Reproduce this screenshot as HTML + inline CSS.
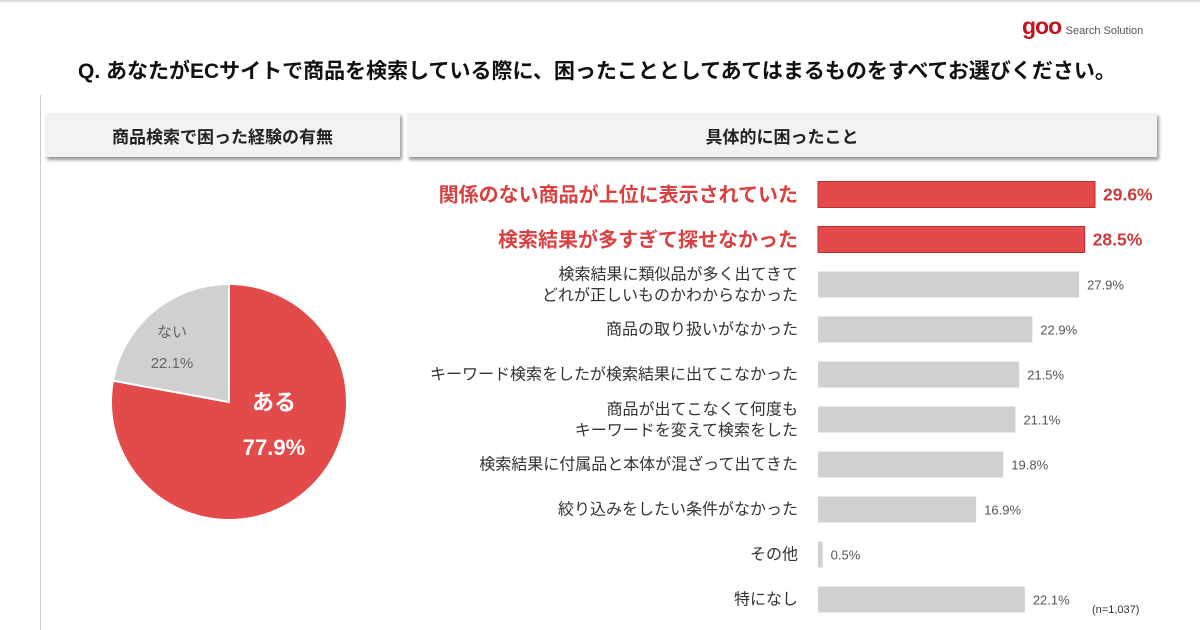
<!DOCTYPE html>
<html><head><meta charset="utf-8">
<style>
body{margin:0;width:1200px;height:630px;background:#fff;overflow:hidden;position:relative;font-family:"Liberation Sans","Noto Sans CJK JP",sans-serif;}
.abs{position:absolute;}
.hdr{position:absolute;top:113px;height:44px;background:#f2f2f2;box-shadow:2px 3px 3px #999;font-weight:bold;font-size:17px;color:#222;display:flex;align-items:center;justify-content:center;}
</style></head><body>
<div class="abs" style="left:0;top:0;width:1200px;height:2px;background:#ddd"></div>
<div class="abs" style="left:40px;top:95px;width:1px;height:535px;background:#ccc"></div>
<div class="abs" style="left:1022px;top:13px;white-space:nowrap"><span style="color:#c0141e;font-weight:bold;font-size:23px;letter-spacing:-1px">goo</span> <span style="font-size:11px;color:#555">Search Solution</span></div>
<div class="abs" style="left:78px;top:55px;font-size:21px;font-weight:bold;color:#111;white-space:nowrap">Q. あなたがECサイトで商品を検索している際に、困ったこととしてあてはまるものをすべてお選びください。</div>
<div class="hdr" style="left:45px;width:355px">商品検索で困った経験の有無</div>
<div class="hdr" style="left:407px;width:750px">具体的に困ったこと</div>
<svg class="abs" style="left:0;top:0" width="1200" height="630" id="chart"></svg>
<div class="abs" style="left:1092px;top:604px;font-size:11px;color:#333">(n=1,037)</div>
<script>
const pieLabels=["ある","ない"];
const pieValues=[77.9,22.1];
const barLabels=[["関係のない商品が上位に表示されていた"],["検索結果が多すぎて探せなかった"],["検索結果に類似品が多く出てきて","どれが正しいものかわからなかった"],["商品の取り扱いがなかった"],["キーワード検索をしたが検索結果に出てこなかった"],["商品が出てこなくて何度も","キーワードを変えて検索をした"],["検索結果に付属品と本体が混ざって出てきた"],["絞り込みをしたい条件がなかった"],["その他"],["特になし"]];
const barValues=[29.6,28.5,27.9,22.9,21.5,21.1,19.8,16.9,0.5,22.1];
const highlight=[true,true,false,false,false,false,false,false,false,false];
const NS="http://www.w3.org/2000/svg";
const svg=document.getElementById('chart');
function mk(t,a,txt){const e=document.createElementNS(NS,t);for(const k in a)e.setAttribute(k,a[k]);if(txt!=null)e.textContent=txt;svg.appendChild(e);return e;}
const cx=229,cy=402,r=118;
const total=pieValues.reduce((a,b)=>a+b,0);
function pt(frac){const a=-Math.PI/2-frac*2*Math.PI;return (cx+r*Math.cos(a)).toFixed(2)+','+(cy+r*Math.sin(a)).toFixed(2);}
function slice(f0,f1){let s=[cx+','+cy];const n=Math.max(4,Math.ceil((f1-f0)*200));for(let k=0;k<=n;k++)s.push(pt(f0+(f1-f0)*k/n));return s.join(' ');}
const gFrac=pieValues[1]/total;
let red=mk('polygon',{points:slice(gFrac,1),fill:'#e34a4a',stroke:'#fff','stroke-width':2});


let gray=mk('polygon',{points:slice(0,gFrac),fill:'#d0d0d0',stroke:'#fff','stroke-width':2});


let t;
t=mk('text',{x:274,y:410,'font-size':22,'font-weight':'bold',fill:'#fff','text-anchor':'middle'},pieLabels[0]);

t=mk('text',{x:274,y:455,'font-size':22,'font-weight':'bold',fill:'#fff','text-anchor':'middle'},pieValues[0].toFixed(1)+'%');

t=mk('text',{x:172,y:337,'font-size':15,fill:'#666','text-anchor':'middle'},pieLabels[1]);

t=mk('text',{x:172,y:368,'font-size':15,fill:'#666','text-anchor':'middle'},pieValues[1].toFixed(1)+'%');

const x0=818,scale=277/29.6,y0=194.5,step=45,bh=26;
function xs(v){return Math.max(v*scale,4);}
barValues.forEach((v,i)=>{
  const yc=y0+i*step,h=highlight[i];
  const b=mk('rect',{x:x0,y:yc-bh/2,width:xs(v),height:bh,fill:h?'#e34a4a':'#d0d0d0',stroke:h?'#b83030':'none','stroke-width':1});
  
  
  const vl=mk('text',{x:x0+xs(v)+8,y:yc+(h?6:5),'font-size':h?17.5:13,fill:h?'#c83c3c':'#555','font-weight':h?'bold':'normal'},v.toFixed(1)+'%');
  
  
  const lines=barLabels[i];
  lines.forEach((ln,j)=>{
    const dy=lines.length===1?0:(j===0?-10:11);
    const l=mk('text',{x:798,y:yc+dy+(h?7:5),'font-size':h?20:16,fill:h?'#d94040':'#333','font-weight':h?'bold':'normal','text-anchor':'end'},ln);
    
    
  });
});
</script>
</body></html>
